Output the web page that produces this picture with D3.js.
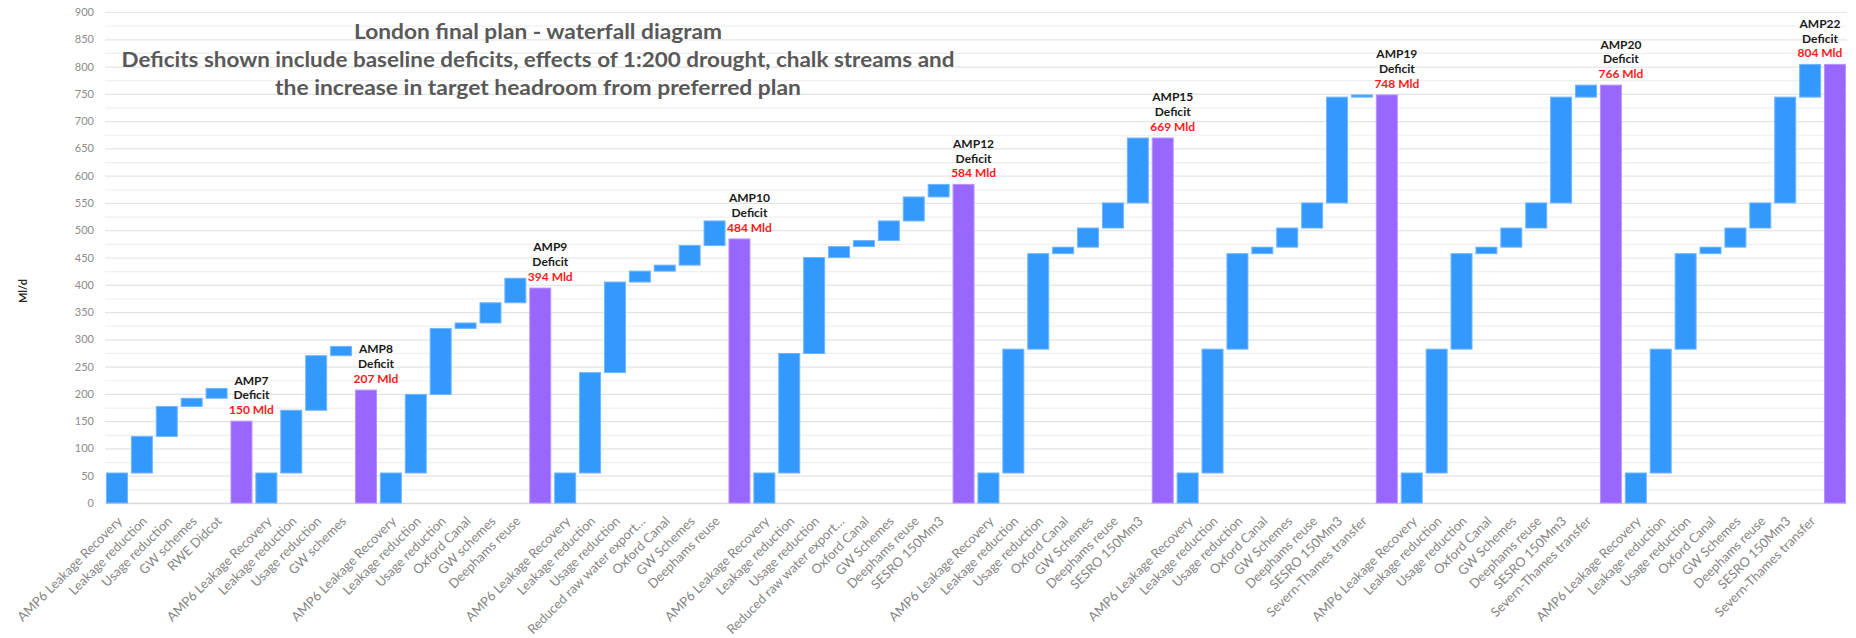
<!DOCTYPE html>
<html>
<head>
<meta charset="utf-8">
<script src="https://cdn.jsdelivr.net/npm/d3@7"></script>
<style>
  html, body { margin: 0; padding: 0; background: #ffffff; }
  svg { display: block; }
  text { font-family: Lato, "Open Sans", "Liberation Sans", sans-serif; }
</style>
</head>
<body>
<svg id="chart" width="1856" height="638"></svg>
<script>
// Deficit totals per AMP period
const totalLabels = ["AMP7", "AMP8", "AMP9", "AMP10", "AMP12", "AMP15", "AMP19", "AMP20", "AMP22"];
const totalValues = [150, 207, 394, 484, 584, 669, 748, 766, 804];

// Option names feeding each period's stack
const groupOptions = [
  ["AMP6 Leakage Recovery", "Leakage reduction", "Usage reduction", "GW schemes", "RWE Didcot"],
  ["AMP6 Leakage Recovery", "Leakage reduction", "Usage reduction", "GW schemes"],
  ["AMP6 Leakage Recovery", "Leakage reduction", "Usage reduction", "Oxford Canal", "GW schemes", "Deephams reuse"],
  ["AMP6 Leakage Recovery", "Leakage reduction", "Usage reduction", "Reduced raw water export…", "Oxford Canal", "GW Schemes", "Deephams reuse"],
  ["AMP6 Leakage Recovery", "Leakage reduction", "Usage reduction", "Reduced raw water export…", "Oxford Canal", "GW Schemes", "Deephams reuse", "SESRO 150Mm3"],
  ["AMP6 Leakage Recovery", "Leakage reduction", "Usage reduction", "Oxford Canal", "GW Schemes", "Deephams reuse", "SESRO 150Mm3"],
  ["AMP6 Leakage Recovery", "Leakage reduction", "Usage reduction", "Oxford Canal", "GW Schemes", "Deephams reuse", "SESRO 150Mm3", "Severn-Thames transfer"],
  ["AMP6 Leakage Recovery", "Leakage reduction", "Usage reduction", "Oxford Canal", "GW Schemes", "Deephams reuse", "SESRO 150Mm3", "Severn-Thames transfer"],
  ["AMP6 Leakage Recovery", "Leakage reduction", "Usage reduction", "Oxford Canal", "GW Schemes", "Deephams reuse", "SESRO 150Mm3", "Severn-Thames transfer"]
];

// Contribution of each option (Ml/d), stacked from zero within a period
const groupSteps = [
  [55, 67, 55, 15, 18],
  [55, 115, 100, 17],
  [55, 144, 121, 10, 37, 45],
  [55, 184, 166, 20, 11, 36, 45],
  [55, 219, 176, 20, 11, 36, 44, 23],
  [55, 227, 175, 12, 35, 46, 119],
  [55, 227, 175, 12, 35, 46, 194, 4],
  [55, 227, 175, 12, 35, 46, 194, 22],
  [55, 227, 175, 12, 35, 46, 194, 60]
];

const yTicks = d3.range(0, 901, 50);
const gridValues = d3.range(0, 901, 25);

const titleLines = [
  "London final plan - waterfall diagram",
  "Deficits shown include baseline deficits, effects of 1:200 drought, chalk streams and",
  "the increase in target headroom from preferred plan"
];

// Flatten into waterfall rows: option steps followed by the period total
const rows = [];
groupOptions.forEach((opts, g) => {
  let run = 0;
  opts.forEach((name, i) => {
    const v = groupSteps[g][i];
    rows.push({ label: name, lo: run, hi: run + v, total: false });
    run += v;
  });
  rows.push({ label: "", lo: 0, hi: totalValues[g], total: true, name: totalLabels[g], value: totalValues[g] });
});

const W = 1856, H = 638;
const svg = d3.select("#chart");

const x = d3.scaleBand()
  .domain(d3.range(rows.length))
  .range([105, 1847])
  .paddingInner(0.157)
  .paddingOuter(0.06);

const y = d3.scaleLinear().domain([0, 900]).range([503, 12]);

// Horizontal gridlines
svg.append("g").selectAll("line")
  .data(gridValues)
  .join("line")
  .attr("x1", 105).attr("x2", 1847)
  .attr("y1", d => y(d) + 0.5).attr("y2", d => y(d) + 0.5)
  .attr("stroke", d => d === 0 ? "#d9d9d9" : (d % 50 === 0 ? "#e4e4e4" : "#efefef"))
  .attr("stroke-width", d => d === 0 ? 1.5 : 1.2);

// Title
const titleG = svg.append("g")
  .attr("fill", "#595959")
  .attr("font-weight", "bold")
  .attr("font-size", 21.5)
  .attr("text-anchor", "middle");
const titleWidths = [368, 833, 526];
titleLines.forEach((t, i) => {
  titleG.append("text")
    .attr("x", 538)
    .attr("y", 38.5 + i * 28.3)
    .attr("textLength", titleWidths[i])
    .attr("lengthAdjust", "spacingAndGlyphs")
    .text(t);
});

// Y axis
const yAxis = svg.append("g")
  .attr("transform", "translate(105,0)")
  .call(d3.axisLeft(y).tickValues(yTicks).tickSize(0).tickPadding(11));
yAxis.select(".domain").remove();
yAxis.selectAll("text")
  .attr("fill", "#8c8c8c")
  .attr("font-size", 11)
  .style("font-family", "Lato, sans-serif");

// Y axis title
svg.append("text")
  .attr("transform", "translate(27,291) rotate(-90)")
  .attr("text-anchor", "middle")
  .attr("font-size", 11)
  .attr("font-weight", "bold")
  .attr("fill", "#262626")
  .text("Ml/d");

// Bars
svg.append("g").selectAll("rect")
  .data(rows)
  .join("rect")
  .attr("x", (d, i) => x(i))
  .attr("width", x.bandwidth())
  .attr("y", d => y(d.hi))
  .attr("height", d => Math.max(1, y(d.lo) - y(d.hi)))
  .attr("fill", d => d.total ? "#9966ff" : "#3399ff")
  .attr("stroke", d => d.total ? "#b893ff" : "#6fb6ff")
  .attr("stroke-width", 1);

// X axis labels
const xAxis = svg.append("g")
  .attr("transform", "translate(0,503)")
  .call(d3.axisBottom(x).tickSize(0).tickFormat(i => rows[i].label));
xAxis.select(".domain").remove();
xAxis.selectAll("text")
  .attr("x", 0).attr("y", 0).attr("dy", 0)
  .attr("transform", "translate(6,19) rotate(-45)")
  .attr("text-anchor", "end")
  .attr("fill", "#858585")
  .attr("font-size", 13)
  .style("font-family", "Lato, sans-serif");

// Deficit annotations above each total bar
const notes = svg.append("g")
  .attr("font-weight", "bold")
  .attr("font-size", 12)
  .attr("text-anchor", "middle");
rows.forEach((d, i) => {
  if (!d.total) return;
  const cx = Math.min(x(i) + x.bandwidth() / 2 + 10, W - 36);
  const base = y(d.value) - 7;
  notes.append("text").attr("x", cx).attr("y", base - 29.6).attr("fill", "#1a1a1a").text(d.name);
  notes.append("text").attr("x", cx).attr("y", base - 14.8).attr("fill", "#1a1a1a").text("Deficit");
  notes.append("text").attr("x", cx).attr("y", base).attr("fill", "#ff1a1a").text(d.value + " Mld");
});
</script>
</body>
</html>
